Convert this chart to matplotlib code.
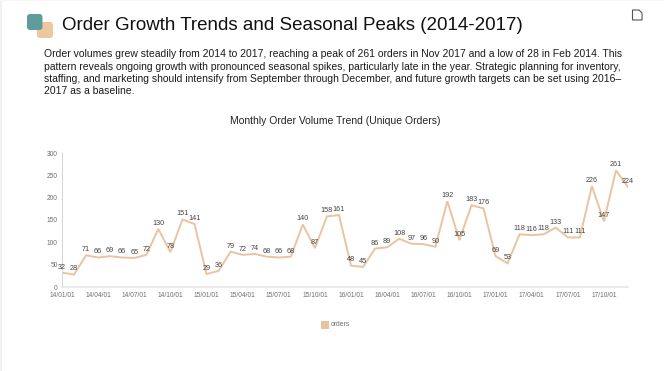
import matplotlib
matplotlib.use("Agg")
import matplotlib.pyplot as plt
from matplotlib.patches import FancyBboxPatch, Rectangle, Polygon
import numpy as np

months = [f"{y}/{m:02d}/01" for y in (14, 15, 16, 17) for m in range(1, 13)]
orders = [32, 28, 71, 66, 69, 66, 65, 72, 130, 78, 151, 141,
          29, 36, 79, 72, 74, 68, 66, 68, 140, 87, 158, 161,
          48, 45, 86, 89, 108, 97, 96, 90, 192, 105, 183, 176,
          69, 53, 118, 116, 118, 133, 111, 111, 226, 147, 261, 224]
y_ticks = [0, 50, 100, 150, 200, 250, 300]
heading = "Order Growth Trends and Seasonal Peaks (2014-2017)"
body_lines = [
    "Order volumes grew steadily from 2014 to 2017, reaching a peak of 261 orders in Nov 2017 and a low of 28 in Feb 2014. This",
    "pattern reveals ongoing growth with pronounced seasonal spikes, particularly late in the year. Strategic planning for inventory,",
    "staffing, and marketing should intensify from September through December, and future growth targets can be set using 2016\u2013",
    "2017 as a baseline.",
]
chart_title = "Monthly Order Volume Trend (Unique Orders)"
series_name = "orders"

W, H = 664, 371
LINE = "#E8C4A0"
plt.rcParams["font.family"] = ["Liberation Sans", "DejaVu Sans"]
fig = plt.figure(figsize=(W / 100, H / 100), dpi=100, facecolor="white")
bg = fig.add_axes([0, 0, 1, 1], zorder=0)
bg.set_xlim(0, W); bg.set_ylim(H, 0); bg.axis("off")

# card edge
bg.add_patch(Rectangle((0, 0), 2, H, fc="#F1F1F1", ec="none"))
bg.add_patch(Rectangle((0, 0), W, 1, fc="#F6F6F6", ec="none"))

# header icon
bg.add_patch(FancyBboxPatch((37, 22), 16, 16, boxstyle="round,pad=0,rounding_size=3",
                            fc="#EDC79F", ec="none"))
bg.add_patch(FancyBboxPatch((27, 14), 15.5, 16, boxstyle="round,pad=0,rounding_size=3",
                            fc="#5F9C9C", ec="none"))
# document icon
bg.add_patch(Polygon([(632.5, 10), (639, 10), (642, 13), (642, 20), (632.5, 20)],
                     closed=True, fc="white", ec="#555555", lw=0.8))

bg.text(62, 25, heading, fontsize=13.5, color="#111111", va="center", ha="left")
for y, line in zip((54, 66.5, 79, 91.5), body_lines):
    bg.text(44, y, line, fontsize=7.45, color="#1A1A1A", va="center", ha="left")
bg.text(335, 120.5, chart_title, fontsize=7.5, color="#222222", va="center", ha="center")

ax = fig.add_axes([62 / W, 1 - 287 / H, 566 / W, 134 / H], zorder=1)
ax.patch.set_alpha(0)
x = np.arange(len(orders))
ax.plot(x, orders, color=LINE, lw=1.4, solid_joinstyle="miter", label=series_name)
ax.set_xlim(0, len(orders) - 1)
ax.set_ylim(0, 300)
for xi, v in zip(x, orders):
    ax.annotate(str(v), (xi, v), xytext=(0, 1.5), textcoords="offset points", ha="center",
                va="bottom", fontsize=5.2, color="#444444", annotation_clip=False)
for s in ("top", "right"):
    ax.spines[s].set_visible(False)
ax.spines["left"].set_color("#D4D4D4")
ax.spines["left"].set_linewidth(0.7)
ax.spines["bottom"].set_color("#E6E6E6")
ax.spines["bottom"].set_linewidth(1.2)
ax.set_yticks(y_ticks)
ax.set_xticks(x[::3])
ax.set_xticklabels(months[::3])
ax.tick_params(axis="both", length=0, labelsize=4.8, labelcolor="#707070")
ax.tick_params(axis="y", pad=3)
ax.tick_params(axis="x", pad=3.5)

bg.add_patch(Rectangle((321, 321), 8, 8, fc=LINE, ec="none"))
bg.text(331, 325, series_name, fontsize=4.9, color="#707070", va="center", ha="left")

fig.savefig("out.png", dpi=100)
